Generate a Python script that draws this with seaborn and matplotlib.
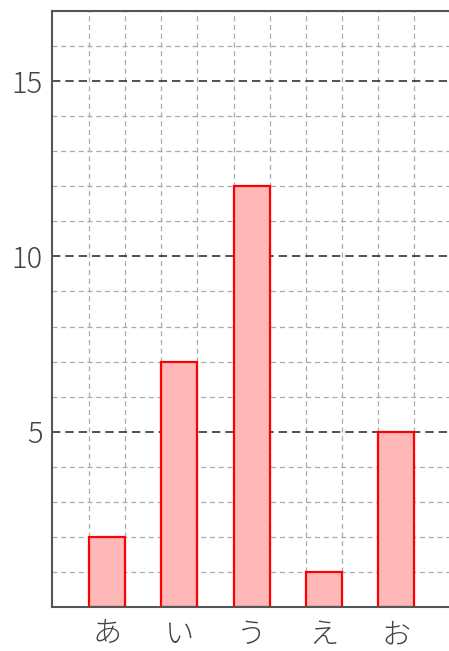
import numpy as np
import pandas as pd
import seaborn as sns
import matplotlib.pyplot as plt
from matplotlib.ticker import MultipleLocator, FixedLocator

# datos
categorias = ['あ', 'い', 'う', 'え', 'お']
valores = [2, 7, 12, 1, 5]

df = pd.DataFrame({'cat': categorias, 'val': valores})

sns.set_style('white')
plt.rcParams['font.family'] = ['Noto Sans CJK JP', 'DejaVu Sans']

fig = plt.figure(figsize=(4.49, 6.51), dpi=100)
ax = fig.add_axes([0.1158, 0.0676, 0.8842, 0.9155])

sns.barplot(data=df, x='cat', y='val', ax=ax, width=0.5,
            color='#ffb8b8', edgecolor='red', linewidth=1.6, saturation=1)

ax.set_xlim(-0.765, 4.735)
ax.set_ylim(0, 17)

# ticks y cuadrícula
ax.yaxis.set_major_locator(FixedLocator([5, 10, 15]))
ax.yaxis.set_minor_locator(MultipleLocator(1))
bordes = [i + d for i in range(len(categorias)) for d in (-0.25, 0.25)]
ax.xaxis.set_minor_locator(FixedLocator(bordes))

ax.set_axisbelow(True)
ax.grid(False)
ax.yaxis.grid(True, which='major', color='#333333', linestyle=(0, (5, 3)), linewidth=1.2)
ax.yaxis.grid(True, which='minor', color='#aaaaaa', linestyle=(0, (4, 3)), linewidth=0.9)
ax.xaxis.grid(True, which='minor', color='#aaaaaa', linestyle=(0, (4, 3)), linewidth=0.9)

ax.tick_params(which='both', length=0)
ax.tick_params(axis='y', labelsize=21, labelcolor='#444444', pad=7)
ax.tick_params(axis='x', labelsize=21, labelcolor='#444444', pad=9)
for t in ax.get_xticklabels() + ax.get_yticklabels():
    t.set_fontweight('light')
ax.set_xlabel('')
ax.set_ylabel('')

for lado in ['left', 'bottom', 'top']:
    ax.spines[lado].set_color('#555555')
    ax.spines[lado].set_linewidth(1.5)
ax.spines['right'].set_visible(False)

fig.savefig('out.png', dpi=100)
